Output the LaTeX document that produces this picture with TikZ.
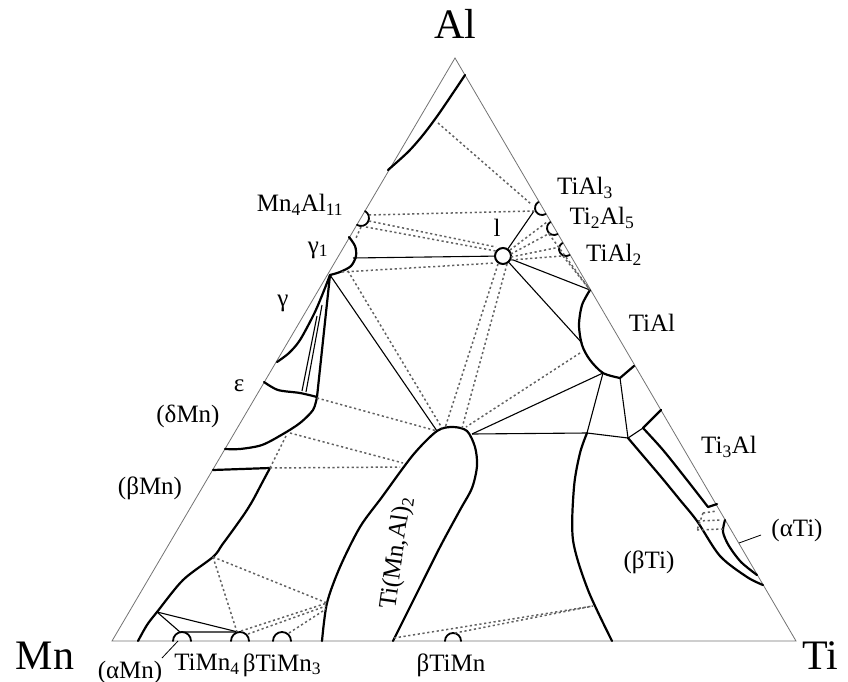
\documentclass[tikz,border=0pt]{standalone}
\usepackage{fontspec}
\setmainfont{Liberation Serif}
\begin{document}
\begin{tikzpicture}[x=1pt,y=-1pt,
  edge/.style={draw=black!55, line width=0.8pt},
  bnd/.style={line width=2.2pt, line cap=round, line join=round},
  tie/.style={line width=1.1pt},
  dotl/.style={line width=1.5pt, black!62, dash pattern=on 2.2pt off 2.6pt},
  lab/.style={font=\fontsize{25}{28}\selectfont, inner sep=0pt},
  big/.style={font=\fontsize{42}{46}\selectfont, inner sep=0pt}]
\useasboundingbox (0,0) rectangle (848,682);

% triangle
\coordinate (Mn) at (112,641);
\coordinate (Ti) at (796,641);
\coordinate (Al) at (455,58);
\draw[edge] (Mn) -- (Ti) -- (Al) -- cycle;

% key points
\coordinate (G1v) at (330,275);
\coordinate (G1m) at (353,258);
\coordinate (TA3) at (534,211);
\coordinate (TAtop) at (590,290);
\coordinate (TAleft) at (582,343);
\coordinate (TAbl) at (603,373);
\coordinate (TAcor) at (620,378);
\coordinate (TMtop) at (437,431);
\coordinate (TMr) at (472,434);
\coordinate (J1) at (587,433);
\coordinate (J2) at (628,438);
\coordinate (T3a) at (643,428);
\coordinate (BMa) at (157,612);
\coordinate (BMb) at (213,557);
\coordinate (BMc) at (270,468);
\coordinate (TML) at (327,603);
\coordinate (BTL) at (593,606);

% liquid circle
\node[circle, draw, line width=2pt, minimum size=16pt, inner sep=0pt] (l) at (503,256) {};

% Al corner boundary
\draw[bnd] plot[smooth] coordinates {(465,75) (455,90) (438,115) (423,135) (408,152) (388,170)};

% compound semicircles on edges
\draw[bnd, line width=1.8pt, shift={(361,218)}] (-59.5:8) arc[start angle=-59.5, end angle=120.5, radius=8];
\draw[bnd, line width=1.8pt, shift={(542,208)}] (239.7:7) arc[start angle=239.7, end angle=59.7, radius=7];
\draw[bnd, line width=1.8pt, shift={(554,228)}] (239.7:7) arc[start angle=239.7, end angle=59.7, radius=7];
\draw[bnd, line width=1.8pt, shift={(566,249)}] (239.7:7) arc[start angle=239.7, end angle=59.7, radius=7];
\draw[bnd, line width=1.8pt, shift={(182,641)}] (180:9) arc[start angle=180, end angle=360, radius=9];
\draw[bnd, line width=1.8pt, shift={(240,641)}] (180:9) arc[start angle=180, end angle=360, radius=9];
\draw[bnd, line width=1.8pt, shift={(282,641)}] (180:9) arc[start angle=180, end angle=360, radius=9];
\draw[bnd, line width=1.8pt, shift={(453,641)}] (180:8) arc[start angle=180, end angle=360, radius=8];

% gamma1
\draw[bnd] plot[smooth] coordinates {(349,237) (355,246) (356,256) (351,266) (340,272) (G1v)};
% gamma
\draw[bnd] plot[smooth] coordinates {(G1v) (323,293) (314,314) (300,340) (289,353) (277,362)};
\draw[bnd] (G1v) -- (317,397);
\draw[tie] (317,316) -- (302,391);
\draw[tie] (322,305) -- (306,392);
% epsilon
\draw[bnd] plot[smooth] coordinates {(264,382) (278,390) (300,393) (317,397)};
% delta Mn
\draw[bnd] plot[smooth] coordinates {(317,397) (313,410) (300,423) (283,434) (262,445) (240,449) (225,449)};
% beta Mn
\draw[bnd] (213,470) -- (BMc);
\draw[bnd] plot[smooth] coordinates {(BMc) (262,483) (253,500) (245,513) (233,530) (222,545) (BMb) (183,580) (BMa) (147,625) (138,641)};
% Ti(Mn,Al)2
\draw[bnd] plot[smooth] coordinates {(322,641) (TML) (340,567) (360,527) (382,497) (413,455) (TMtop) (453,427) (467,431) (475,447) (477,466) (472,488) (460,510) (440,547) (417,593) (393,641)};
% TiAl
\draw[bnd] plot[smooth] coordinates {(TAtop) (582,305) (579,325) (582,345) (590,360) (TAbl) (TAcor)} -- (634,366);
% beta Ti
\draw[bnd] plot[smooth] coordinates {(J1) (580,453) (574,487) (573,540) (588,590) (612,641)};
\draw[bnd] plot[smooth] coordinates {(J2) (645,458) (662,478) (680,500) (697,521) (720,556) (747,577) (763,585)};
% Ti3Al
\draw[bnd] (T3a) -- (661,410);
\draw[bnd] plot[smooth] coordinates {(T3a) (663,450) (687,480) (708,507)} -- (717,504);
% alpha Ti
\draw[bnd] plot[smooth] coordinates {(725,520) (723,532) (729,546) (741,562) (757,575)};

% solid tie lines
\draw[tie] (G1m) -- (l);
\draw[tie] (l) -- (TA3);
\draw[tie] (l) -- (TAtop);
\draw[tie] (l) -- (TAleft);
\draw[tie] (G1v) -- (TMtop);
\draw[tie] (TAbl) -- (TMr);
\draw[tie] (TMr) -- (J1) -- (J2);
\draw[tie] (TAbl) -- (J1);
\draw[tie] (TAcor) -- (J2);
\draw[tie] (J2) -- (T3a);
\draw[tie] (BMa) -- (180,632) -- (238,632);
\draw[tie] (BMa) -- (238,632);

% leaders
\draw[tie, line width=0.8pt] (162,658) -- (178,641);
\draw[tie, line width=0.8pt] (739,543) -- (761,535);

% dotted tie lines
\draw[dotl] (438,123) -- (531,204);
\draw[dotl] (369,215) -- (TA3);
\draw[dotl] (369,221) -- (496,247);
\draw[dotl] (366,227) -- (496,251);
\draw[dotl] (361,227) -- (356,238);
\draw[dotl] (342,272) -- (495,263);
\draw[dotl] (510,250) -- (547,222);
\draw[dotl] (511,254) -- (550,233);
\draw[dotl] (511,257) -- (560,247);
\draw[dotl] (511,260) -- (562,256);
\draw[dotl] (549,234) -- (TAtop);
\draw[dotl] (563,256) -- (TAtop);
\draw[dotl] (498,264) -- (445,428);
\draw[dotl] (507,264) -- (462,428);
\draw[dotl] (580,353) -- (466,427);
\draw[dotl] (348,271) -- (442,428);
\draw[dotl] (317,398) -- (TMtop);
\draw[dotl] (290,433) -- (403,463);
\draw[dotl] (BMc) -- (400,467);
\draw[dotl] (BMc) -- (287,434);
\draw[dotl] (BMb) -- (237,632);
\draw[dotl] (BMb) -- (TML);
\draw[dotl] (241,631) -- (TML);
\draw[dotl] (248,634) -- (326,606);
\draw[dotl] (289,633) -- (326,609);
\draw[dotl] (394,638) -- (BTL);
\draw[dotl] (455,633) -- (BTL);
\draw[dotl] (703,513) -- (717,511);
\draw[dotl] (698,521) -- (721,520);
\draw[dotl] (697,530) -- (723,529);
\draw[dotl] (703,513) -- (697,530);

% labels
\node[big] (lAl) at (455,24) {Al};
\node[big] (lMn) at (45,656) {Mn};
\node[big] (lTi) at (820,656) {Ti};
\node[lab] (lMn4) at (300,205) {Mn\textsubscript{4}Al\textsubscript{11}};
\node[lab] (lg1) at (318,250) {γ\textsubscript{1}};
\node[lab] (lg) at (283,303) {γ};
\node[lab] (le) at (239,386) {ε};
\node[lab] (ldM) at (188,416) {(δMn)};
\node[lab] (lbM) at (150,488) {(βMn)};
\node[lab] (laM) at (130,672) {(αMn)};
\node[lab] (lTM4) at (207,664) {TiMn\textsubscript{4}};
\node[lab] (lTM3) at (282,665) {βTiMn\textsubscript{3}};
\node[lab] (lTM) at (451,665) {βTiMn};
\node[lab, rotate=82] (lTMA) at (397,553) {Ti(Mn,Al)\textsubscript{2}};
\node[lab] (lbT) at (649,562) {(βTi)};
\node[lab] (laT) at (797,530) {(αTi)};
\node[lab] (lT3A) at (729,447) {Ti\textsubscript{3}Al};
\node[lab] (lTA) at (652,323) {TiAl};
\node[lab] (lTA2) at (614,255) {TiAl\textsubscript{2}};
\node[lab] (lT2A5) at (602,218) {Ti\textsubscript{2}Al\textsubscript{5}};
\node[lab] (lTA3) at (585,188) {TiAl\textsubscript{3}};
\node[lab] (ll) at (497,228) {l};
\end{tikzpicture}
\end{document}
